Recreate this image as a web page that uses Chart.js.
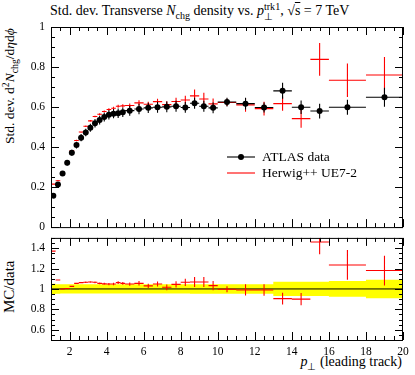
<!DOCTYPE html>
<html>
<head>
<meta charset="utf-8">
<script src="https://cdn.jsdelivr.net/npm/chart.js@4.4.0/dist/chart.umd.min.js"></script>
<style>
  body { margin:0; background:#fff; width:415px; height:375px; position:relative; overflow:hidden; font-family:"Liberation Serif", serif; }
  canvas { position:absolute; left:0; }
  #main { top:0; }
  #ratio { top:225px; }
  .t { position:absolute; white-space:nowrap; color:#000; line-height:15px; }
  .rot { transform-origin:0 0; transform:rotate(-90deg); }
  sub, sup { font-size:72%; line-height:0; }
  .stk { display:inline-block; vertical-align:-0.45em; line-height:0.95; font-size:72%; }
  .stk span { display:block; }
</style>
</head>
<body>
<div id="title" class="t" style="left:50px;top:2px;font-size:14px">Std. dev. Transverse <i>N</i><sub>chg</sub> density vs. <i>p</i><span class="stk"><span>trk1</span><span>⊥</span></span>, √<span style="text-decoration:overline">s</span> = 7 TeV</div>
<div id="ytitle" class="t rot" style="left:2px;top:170px;font-size:13.5px">Std. dev. d<sup>2</sup><i>N</i><sub>chg</sub>/d<i>η</i>d<i>ϕ</i></div>
<div id="rtitle" class="t rot" style="left:2px;top:313px;font-size:15px">MC/data</div>
<div id="xtitle" class="t" style="right:13px;top:354px;font-size:14px"><i>p</i><sub>⊥</sub> (leading track)</div>
<canvas id="main" width="415" height="240"></canvas>
<canvas id="ratio" width="415" height="150"></canvas>
<script>
// bin edges in leading-track pT
const binEdges = [1,1.25,1.5,1.75,2,2.25,2.5,2.75,3,3.25,3.5,3.75,4,4.25,4.5,4.75,5,
  5.5,6,6.5,7,7.5,8,8.5,9,9.5,10,11,12,13,14,15,16,18,20];

// ATLAS data
const dataVals = [0.157,0.213,0.268,0.321,0.372,0.410,0.447,0.473,0.497,0.519,0.535,0.550,0.561,0.567,0.569,0.574,
  0.582,0.590,0.596,0.599,0.601,0.604,0.598,0.619,0.604,0.596,
  0.625,0.617,0.598,0.681,0.599,0.580,0.599,0.649];
const dataErr = [0.007,0.009,0.011,0.013,0.015,0.017,0.018,0.019,0.020,0.021,0.022,0.022,0.023,0.023,0.024,0.024,
  0.025,0.026,0.026,0.027,0.027,0.027,0.027,0.028,0.028,0.027,
  0.022,0.029,0.025,0.040,0.034,0.037,0.038,0.048];

// Herwig++ UE7-2
const mcVals = [0.215,0.232,0.268,0.323,0.381,0.433,0.475,0.504,0.531,0.553,0.564,0.578,0.588,0.594,0.604,0.606,
  0.608,0.621,0.614,0.627,0.612,0.628,0.635,0.656,0.640,0.616,
  0.623,0.611,0.592,0.617,0.542,0.838,0.734,0.760];
const mcErr = [0.003,0.003,0.003,0.003,0.003,0.003,0.003,0.004,0.004,0.004,0.005,0.005,0.006,0.007,0.008,0.008,
  0.010,0.013,0.012,0.015,0.017,0.018,0.022,0.032,0.031,0.027,
  0.018,0.034,0.034,0.036,0.046,0.082,0.084,0.090];

// MC/data ratio panel
const ratioVals = [1.37,1.088,1.0,1.005,1.025,1.055,1.062,1.065,1.068,1.065,1.055,1.05,1.048,1.048,1.062,1.055,
  1.048,1.055,1.03,1.048,1.016,1.045,1.065,1.068,1.068,1.033,
  0.997,0.99,0.99,0.905,0.9,1.46,1.235,1.18];
const ratioErr = [0.005,0.005,0.005,0.005,0.005,0.006,0.006,0.007,0.008,0.008,0.009,0.010,0.011,0.012,0.014,0.013,
  0.016,0.022,0.02,0.025,0.028,0.03,0.036,0.05,0.05,0.045,
  0.03,0.055,0.057,0.058,0.06,0.12,0.146,0.146];
// relative data uncertainty (yellow band half width)
const bandErr = [0.05,0.046,0.045,0.045,0.045,0.045,0.045,0.045,0.045,0.045,0.045,0.045,0.045,0.045,0.045,0.045,
  0.045,0.045,0.045,0.045,0.045,0.045,0.045,0.046,0.046,0.046,
  0.047,0.047,0.047,0.07,0.07,0.07,0.077,0.09];

const xTicks = [2,4,6,8,10,12,14,16,18,20];
const yTicksMain = [0,0.2,0.4,0.6,0.8,1];
const yTicksRatio = [0.6,0.8,1,1.2,1.4];

const centers = dataVals.map((v, i) => (binEdges[i] + binEdges[i + 1]) / 2);
const tickFont = { family: 'Liberation Serif', size: 11.5 };
const fmt = v => String(+v.toFixed(2));

function crosses(chart, yId, vals, errs, color) {
  const ctx = chart.ctx, x = chart.scales.x, y = chart.scales[yId], a = chart.chartArea;
  ctx.save();
  ctx.beginPath(); ctx.rect(a.left, a.top, a.right - a.left, a.bottom - a.top); ctx.clip();
  ctx.strokeStyle = color; ctx.lineWidth = 1.1;
  ctx.beginPath();
  vals.forEach((v, i) => {
    const yc = y.getPixelForValue(v), xc = x.getPixelForValue(centers[i]);
    ctx.moveTo(x.getPixelForValue(binEdges[i]), yc);
    ctx.lineTo(x.getPixelForValue(binEdges[i + 1]), yc);
    ctx.moveTo(xc, y.getPixelForValue(v - errs[i]));
    ctx.lineTo(xc, y.getPixelForValue(v + errs[i]));
  });
  ctx.stroke();
  ctx.restore();
}

function frame(chart, yId, yMajor, yMin, yMax) {
  const ctx = chart.ctx, x = chart.scales.x, y = chart.scales[yId], a = chart.chartArea;
  ctx.save();
  ctx.strokeStyle = '#000'; ctx.lineWidth = 1;
  ctx.strokeRect(a.left + 0.5, a.top + 0.5, a.right - a.left - 1, a.bottom - a.top);
  ctx.beginPath();
  for (let v = 1; v <= 20.001; v += 0.5) {
    const px = Math.round(x.getPixelForValue(v)) + 0.5;
    const len = Math.abs(v % 2) < 1e-6 ? 8 : 4;
    ctx.moveTo(px, a.top); ctx.lineTo(px, a.top + len);
    ctx.moveTo(px, a.bottom); ctx.lineTo(px, a.bottom - len);
  }
  for (let k = Math.round(yMin / 0.05); k <= Math.round(yMax / 0.05); k++) {
    const v = k * 0.05;
    const py = Math.round(y.getPixelForValue(v)) + 0.5;
    const len = yMajor.some(t => Math.abs(t - v) < 1e-6) ? 8 : 4;
    ctx.moveTo(a.left, py); ctx.lineTo(a.left + len, py);
    ctx.moveTo(a.right, py); ctx.lineTo(a.right - len, py);
  }
  ctx.stroke();
  ctx.restore();
}

const mainPlugin = {
  id: 'mainDecor',
  beforeDatasetsDraw(chart) {
    crosses(chart, 'y', mcVals, mcErr, '#ff0000');
    crosses(chart, 'y', dataVals, dataErr, '#000');
  },
  afterDraw(chart) {
    frame(chart, 'y', yTicksMain, 0, 1);
    const ctx = chart.ctx;
    ctx.save();
    ctx.lineWidth = 1.1;
    ctx.strokeStyle = '#000';
    ctx.beginPath(); ctx.moveTo(227, 157); ctx.lineTo(255, 157); ctx.stroke();
    ctx.fillStyle = '#000';
    ctx.beginPath(); ctx.arc(241, 157, 3, 0, Math.PI * 2); ctx.fill();
    ctx.strokeStyle = '#ff0000';
    ctx.beginPath(); ctx.moveTo(227, 173); ctx.lineTo(255, 173); ctx.stroke();
    ctx.font = '13.5px "Liberation Serif"';
    ctx.textBaseline = 'middle';
    ctx.fillText('ATLAS data', 262, 157);
    ctx.fillText('Herwig++ UE7-2', 262, 173);
    ctx.restore();
  }
};

const ratioPlugin = {
  id: 'ratioDecor',
  afterDatasetsDraw(chart) {
    crosses(chart, 'y', ratioVals, ratioErr, '#ff0000');
  },
  afterDraw(chart) {
    frame(chart, 'y', yTicksRatio, 0.5, 1.5);
  }
};

new Chart(document.getElementById('main'), {
  type: 'scatter',
  data: {
    datasets: [{
      label: 'ATLAS data',
      data: centers.map((c, i) => ({ x: c, y: dataVals[i] })),
      pointRadius: 3, pointBackgroundColor: '#000', pointBorderWidth: 0, showLine: false
    }]
  },
  options: {
    responsive: false, animation: false, devicePixelRatio: 1,
    layout: { padding: { top: 27, right: 12, bottom: 5, left: 0 } },
    plugins: { legend: { display: false }, tooltip: { enabled: false } },
    scales: {
      x: { type: 'linear', min: 1, max: 20, display: false },
      y: {
        min: 0, max: 1,
        grid: { display: false, drawTicks: false }, border: { display: false },
        ticks: { font: tickFont, color: '#000', padding: 6, callback: fmt },
        afterBuildTicks: s => { s.ticks = yTicksMain.map(v => ({ value: v })); },
        afterFit: s => { s.width = 51; }
      }
    }
  },
  plugins: [mainPlugin]
});

const bandLo = [], bandHi = [];
bandErr.forEach((b, i) => {
  bandLo.push({ x: binEdges[i], y: 1 - b }, { x: binEdges[i + 1], y: 1 - b });
  bandHi.push({ x: binEdges[i], y: 1 + b }, { x: binEdges[i + 1], y: 1 + b });
});

new Chart(document.getElementById('ratio'), {
  type: 'line',
  data: {
    datasets: [
      { data: [{ x: 1, y: 1 }, { x: 20, y: 1 }], borderColor: '#000', borderWidth: 1, pointRadius: 0, fill: false, order: 1 },
      { data: bandLo, borderWidth: 0, pointRadius: 0, fill: false, order: 3 },
      { data: bandHi, borderWidth: 0, pointRadius: 0, fill: 1, backgroundColor: '#ffff00', order: 2 }
    ]
  },
  options: {
    responsive: false, animation: false, devicePixelRatio: 1,
    layout: { padding: { top: 10, right: 12, bottom: 0, left: 0 } },
    plugins: { legend: { display: false }, tooltip: { enabled: false } },
    scales: {
      x: {
        type: 'linear', min: 1, max: 20,
        grid: { display: false, drawTicks: false }, border: { display: false },
        ticks: { font: tickFont, color: '#000', padding: 5, maxRotation: 0, callback: fmt },
        afterBuildTicks: s => { s.ticks = xTicks.map(v => ({ value: v })); },
        afterFit: s => { s.height = 35; }
      },
      y: {
        min: 0.5, max: 1.5,
        grid: { display: false, drawTicks: false }, border: { display: false },
        ticks: { font: tickFont, color: '#000', padding: 6, callback: fmt },
        afterBuildTicks: s => { s.ticks = yTicksRatio.map(v => ({ value: v })); },
        afterFit: s => { s.width = 51; }
      }
    }
  },
  plugins: [ratioPlugin]
});

// place rotated axis titles
const yt = document.getElementById('ytitle');
yt.style.top = (28 + yt.offsetWidth) + 'px';
const rt = document.getElementById('rtitle');
rt.style.top = (286 + rt.offsetWidth / 2) + 'px';
</script>
</body>
</html>
